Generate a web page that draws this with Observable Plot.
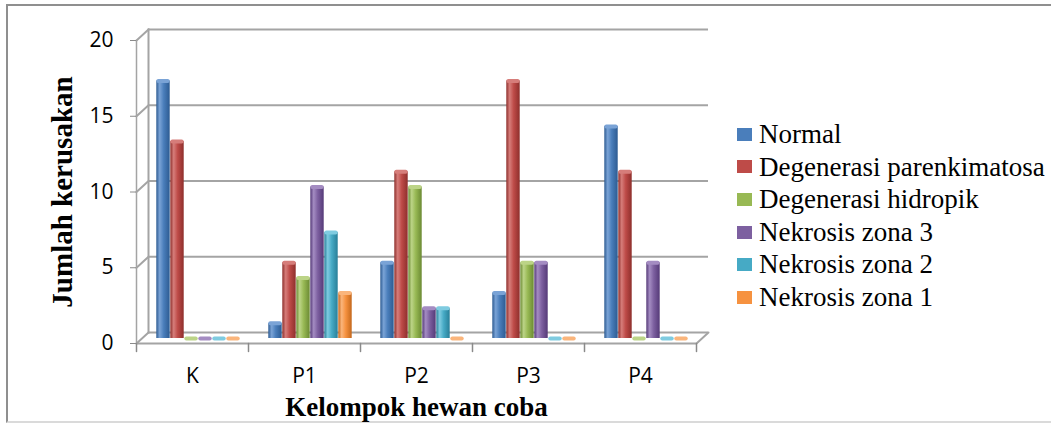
<!DOCTYPE html>
<html><head><meta charset="utf-8">
<script src="https://cdn.jsdelivr.net/npm/d3@7"></script>
<script src="https://cdn.jsdelivr.net/npm/@observablehq/plot@0.6"></script>
<style>
body{margin:0;background:#fff}
#wrap{position:relative;width:1051px;height:423px;overflow:hidden;background:#fff}
#border{position:absolute;left:6px;top:4px;width:1100px;height:415px;border-top:2px solid #8f8f8f;border-left:2px solid #8f8f8f;border-bottom:2px solid #dadada}
#chart{position:absolute;left:0;top:0}
#legend{position:absolute;left:737px;top:118px;font-family:"Liberation Serif","Times New Roman",serif;font-size:27px;line-height:32.6px;color:#000}
.item{display:flex;align-items:center;white-space:nowrap}
.sw{width:15px;height:13px;margin-right:7px;flex:none}
</style></head><body>
<div id="wrap"><div id="border"></div><div id="chart"></div><div id="legend"></div></div>
<script>
const groups = ["K", "P1", "P2", "P3", "P4"];
const series = ["Normal", "Degenerasi parenkimatosa", "Degenerasi hidropik", "Nekrosis zona 3", "Nekrosis zona 2", "Nekrosis zona 1"];
const normal        = [17, 1, 5, 3, 14];
const parenkimatosa = [13, 5, 11, 17, 11];
const hidropik      = [0, 4, 10, 5, 0];
const zona3         = [0, 10, 2, 5, 5];
const zona2         = [0, 7, 2, 0, 0];
const zona1         = [0, 3, 0, 0, 0];
const yTicks = [0, 5, 10, 15, 20];
const yTitle = "Jumlah kerusakan";
const xTitle = "Kelompok hewan coba";

const baseColors  = ["#4a7ebb", "#be4b48", "#98b954", "#7d60a0", "#46aac5", "#f69240"];
const darkColors  = ["#2d5b92", "#8e2f2c", "#6b8a33", "#553a78", "#287f98", "#c4681c"];
const lightColors = ["#7aa3d6", "#d67d7a", "#bcd487", "#a48cc2", "#7fcbe0", "#fab57c"];

const valuesBySeries = [normal, parenkimatosa, hidropik, zona3, zona2, zona1];
const rows = series.map((s, i) => valuesBySeries[i].map((v, j) => ({group: groups[j], series: s, value: v})));

const grid = "#a4a4a4";
const lineShape = {draw(context, l) { context.moveTo(0, 0); context.lineTo(0, -l); }};
const depth = {dx: 12, dy: -11};
const diag = {length: Math.hypot(depth.dx, depth.dy), rotate: Math.atan2(depth.dx, -depth.dy) * 180 / Math.PI};

const marks = [
  Plot.ruleY(yTicks, {y: d => d, ...depth, stroke: grid, strokeWidth: 2.2}),
  Plot.ruleY([0], {y: d => d, stroke: grid, strokeWidth: 2}),
  Plot.frame({anchor: "left", facetAnchor: "left", ...depth, stroke: grid, strokeWidth: 2}),
  Plot.frame({anchor: "left", facetAnchor: "left", stroke: grid, strokeWidth: 1.5}),
  Plot.vector(yTicks, {y: d => d, frameAnchor: "left", facetAnchor: "left", length: diag.length, rotate: diag.rotate, anchor: "start", shape: lineShape, stroke: grid, strokeWidth: 2}),
  Plot.vector([0], {y: d => d, frameAnchor: "right", facetAnchor: "right", length: diag.length, rotate: diag.rotate, anchor: "start", shape: lineShape, stroke: grid, strokeWidth: 2}),
  Plot.vector([0], {y: d => d, frameAnchor: "left", length: 8, rotate: 180, anchor: "start", shape: lineShape, stroke: "#8a8a8a", strokeWidth: 1.5}),
  Plot.vector([0], {y: d => d, frameAnchor: "right", facetAnchor: "right", length: 8, rotate: 180, anchor: "start", shape: lineShape, stroke: "#8a8a8a", strokeWidth: 1.5})
];
series.forEach((s, i) => {
  marks.push(Plot.barY(rows[i], {fx: "group", x: "series", y: "value", fill: `url(#cyl${i})`, dx: 6, dy: -5, insetLeft: 0.3, insetRight: 0.3}));
  marks.push(Plot.tickY(rows[i], {fx: "group", x: "series", y: "value", stroke: lightColors[i], strokeWidth: 4, strokeLinecap: "round", dx: 6, dy: -5, insetLeft: 2.3, insetRight: 2.3}));
});
marks.push(
  Plot.axisY({ticks: yTicks, tickSize: 6, tickPadding: 17, label: null, fontSize: 21, stroke: "#8a8a8a", fill: "#000"}),
  Plot.axisY({ticks: [], tickSize: 0, label: yTitle, labelAnchor: "center", labelOffset: 85, labelArrow: "none", fontSize: 29, fontWeight: "bold", fontFamily: "'Liberation Serif', 'Times New Roman', serif", fill: "#000"}),
  Plot.axisFx({anchor: "bottom", tickSize: 0, tickPadding: 25, label: null, fontSize: 21, fill: "#000"}),
  Plot.axisFx({anchor: "bottom", ticks: [], tickSize: 0, label: xTitle, labelAnchor: "center", labelOffset: 72, labelArrow: "none", fontSize: 27, fontWeight: "bold", fontFamily: "'Liberation Serif', 'Times New Roman', serif", fill: "#000"})
);

const chart = Plot.plot({
  width: 1051,
  height: 423,
  marginLeft: 134,
  marginRight: 354,
  marginTop: 40,
  marginBottom: 80,
  style: {fontFamily: "'Open Sans', sans-serif", fontSize: "21px", color: "#000", background: "transparent", overflow: "visible"},
  fx: {domain: groups, padding: 0},
  x: {domain: series, paddingInner: 0.02, paddingOuter: 0.8, axis: null},
  y: {domain: [0, 20]},
  marks
});

const defs = d3.select(chart).insert("defs", ":first-child");
series.forEach((s, i) => {
  const g = defs.append("linearGradient").attr("id", `cyl${i}`).attr("x1", 0).attr("x2", 1).attr("y1", 0).attr("y2", 0);
  [[0, darkColors[i]], [0.25, lightColors[i]], [0.55, baseColors[i]], [1, darkColors[i]]].forEach(([o, c]) =>
    g.append("stop").attr("offset", o).attr("stop-color", c));
});
document.getElementById("chart").appendChild(chart);

const legend = d3.select("#legend");
series.forEach((s, i) => {
  const item = legend.append("div").attr("class", "item");
  item.append("div").attr("class", "sw").style("background", baseColors[i]);
  item.append("span").text(s);
});
</script>
</body></html>
